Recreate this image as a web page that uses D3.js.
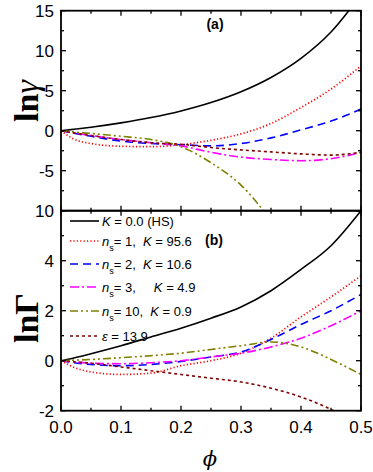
<!DOCTYPE html>
<html><head><meta charset="utf-8">
<script src="https://cdn.jsdelivr.net/npm/d3@7"></script>
<style>body{margin:0;background:#fff}svg{display:block}</style>
</head><body>
<svg id="c" width="373" height="472"></svg>
<script>
// ---- data ----
const phi = [0, 0.02, 0.05, 0.1, 0.15, 0.2, 0.25, 0.3, 0.35, 0.4, 0.45, 0.5];
// panel (a): ln gamma
const gHS   = [0, 0.17, 0.44, 0.98, 1.64, 2.47, 3.52, 4.87, 6.65, 9.04, 12.33, 17.0];
const gN1   = [0, -1.0, -1.6, -1.95, -2.0, -1.75, -1.2, -0.4, 0.9, 2.9, 5.2, 8.1];
const gN2   = [0, -0.3, -0.7, -1.3, -1.6, -1.75, -1.9, -1.6, -0.9, 0.1, 1.2, 2.7];
const gN3   = [0, -0.25, -0.6, -1.1, -1.5, -1.9, -2.7, -3.3, -3.6, -3.75, -3.5, -2.7];
const gN10  = [0, -0.15, -0.35, -0.7, -1.1, -2.0, -4.0, -6.8, -11.2, null, null, null];
const gEps  = [0, -0.25, -0.6, -1.1, -1.5, -1.7, -2.1, -2.4, -2.65, -2.9, -3.05, -2.7];
// panel (b): ln Gamma
const GHS   = [0, 0.1, 0.28, 0.6, 0.95, 1.3, 1.7, 2.15, 2.8, 3.65, 4.6, 6.0];
const GN1   = [0, -0.25, -0.45, -0.55, -0.5, -0.2, 0.0, 0.3, 0.9, 1.75, 2.55, 3.4];
const GN2   = [0, -0.08, -0.15, -0.2, -0.15, -0.03, 0.15, 0.35, 0.85, 1.45, 2.0, 2.65];
const GN3   = [0, -0.05, -0.1, -0.12, -0.08, 0.0, 0.15, 0.3, 0.55, 0.9, 1.4, 2.0];
const GN10  = [0, 0.02, 0.05, 0.12, 0.2, 0.3, 0.45, 0.6, 0.75, 0.55, 0.05, -0.55];
const GEps  = [0, -0.04, -0.1, -0.25, -0.4, -0.55, -0.7, -0.85, -1.1, -1.45, -1.95, -2.6];

const xTicks = [0, 0.1, 0.2, 0.3, 0.4, 0.5];
const xTickLabels = ["0.0", "0.1", "0.2", "0.3", "0.4", "0.5"];
const aTicks = [15, 10, 5, 0, -5, -10];
const aTickLabels = ["15", "10", "5", "0", "-5", "10"];
const bTicks = [4, 2, 0, -2];
const bTickLabels = ["4", "2", "0", "-2"];

const seriesNames = ["HS", "n1", "n2", "n3", "n10", "eps"];
const colors = ["#000000", "#ff0000", "#0000ff", "#ff00ff", "#808000", "#800000"];
const dashes = [null, "1.2,2.2", "8,5", "9,3,2,3", "8,3,2,3,2,3", "3,3"];

// ---- layout ----
const svg = d3.select("#c");
const L = 61, R = 361, T = 10.7, MID = 210.7, B = 410.7;
const x = d3.scaleLinear().domain([0, 0.5]).range([L, R]);
const ya = d3.scaleLinear().domain([-10, 15]).range([MID, T]);
const yb = d3.scaleLinear().domain([-2, 6]).range([B, MID]);

const defs = svg.append("defs");
defs.append("clipPath").attr("id", "ca").append("rect").attr("x", L).attr("y", T).attr("width", R - L).attr("height", MID - T);
defs.append("clipPath").attr("id", "cb").append("rect").attr("x", L).attr("y", MID).attr("width", R - L).attr("height", B - MID);

function drawPanel(y, clip, sets) {
  const g = svg.append("g").attr("clip-path", `url(#${clip})`);
  sets.forEach((vals, i) => {
    const pts = phi.map((p, j) => [p, vals[j]]);
    const line = d3.line().defined(d => d[1] != null)
      .x(d => x(d[0])).y(d => y(d[1])).curve(d3.curveMonotoneX);
    g.append("path").attr("d", line(pts)).attr("fill", "none")
      .attr("stroke", colors[i]).attr("stroke-width", i === 1 ? 1.7 : 1.6)
      .attr("stroke-dasharray", dashes[i]);
  });
}
drawPanel(ya, "ca", [gHS, gN1, gN2, gN3, gN10, gEps]);
drawPanel(yb, "cb", [GHS, GN1, GN2, GN3, GN10, GEps]);

// ---- axes (ticks inward) ----
const xMinor = d3.range(0, 0.5001, 0.05);
function frame(y, y0, y1, majors, minors) {
  const g = svg.append("g").attr("stroke", "#000").attr("stroke-width", 1.3);
  xMinor.forEach(v => {
    const len = xTicks.some(t => Math.abs(t - v) < 1e-6) ? 5 : 3;
    g.append("line").attr("x1", x(v)).attr("x2", x(v)).attr("y1", y(y0)).attr("y2", y(y0) - len);
    g.append("line").attr("x1", x(v)).attr("x2", x(v)).attr("y1", y(y1)).attr("y2", y(y1) + len);
  });
  minors.forEach(v => {
    const len = majors.includes(v) ? 5 : 3;
    g.append("line").attr("x1", L).attr("x2", L + len).attr("y1", y(v)).attr("y2", y(v));
    g.append("line").attr("x1", R).attr("x2", R - len).attr("y1", y(v)).attr("y2", y(v));
  });
  svg.append("rect").attr("x", L).attr("y", y(y1)).attr("width", R - L).attr("height", y(y0) - y(y1))
    .attr("fill", "none").attr("stroke", "#000").attr("stroke-width", 1.8);
}
frame(ya, -10, 15, aTicks, d3.range(-10, 15.01, 2.5));
frame(yb, -2, 6, [-2, 0, 2, 4, 6], d3.range(-2, 6.01, 1));

const tf = "'Liberation Sans', Arial, sans-serif";
aTicks.forEach((v, i) => svg.append("text").attr("x", 54).attr("y", ya(v)).attr("dy", "0.36em")
  .attr("text-anchor", "end").attr("font-family", tf).attr("font-size", 17).text(aTickLabels[i]));
bTicks.forEach((v, i) => svg.append("text").attr("x", 54).attr("y", yb(v)).attr("dy", "0.36em")
  .attr("text-anchor", "end").attr("font-family", tf).attr("font-size", 17).text(bTickLabels[i]));
xTicks.forEach((v, i) => svg.append("text").attr("x", x(v)).attr("y", 433)
  .attr("text-anchor", "middle").attr("font-family", tf).attr("font-size", 17).text(xTickLabels[i]));

// axis titles
const serif = "'Liberation Serif', 'Times New Roman', serif";
function yTitle(cy, sym, italic) {
  const t = svg.append("text").attr("transform", `translate(38,${cy}) rotate(-90)`)
    .attr("text-anchor", "middle").attr("font-family", serif).attr("font-size", 34).attr("font-weight", "bold");
  t.append("tspan").text("ln");
  t.append("tspan").attr("font-style", italic ? "italic" : "normal").attr("font-weight", italic ? "normal" : "bold").text(sym);
}
yTitle(101, "γ", true);
yTitle(318, "Γ", false);
svg.append("text").attr("x", 210).attr("y", 466).attr("text-anchor", "middle")
  .attr("font-family", "'DejaVu Serif', serif").attr("font-size", 21).attr("font-style", "italic").text("ϕ");

// panel labels
svg.append("text").attr("x", 215).attr("y", 29).attr("text-anchor", "middle")
  .attr("font-family", tf).attr("font-size", 14).attr("font-weight", "bold").text("(a)");
svg.append("text").attr("x", 214).attr("y", 245).attr("text-anchor", "middle")
  .attr("font-family", tf).attr("font-size", 14).attr("font-weight", "bold").text("(b)");

// legend
const legRows = [
  {y: 221, parts: [["K", "i"], [" = 0.0 (HS)", ""]]},
  {y: 241, parts: [["n", "i"], ["s", "sub"], ["= 1,  ", ""], ["K", "i"], [" = 95.6", ""]]},
  {y: 264, parts: [["n", "i"], ["s", "sub"], ["= 2,  ", ""], ["K", "i"], [" = 10.6", ""]]},
  {y: 287, parts: [["n", "i"], ["s", "sub"], ["= 3,     ", ""], ["K", "i"], [" = 4.9", ""]]},
  {y: 311, parts: [["n", "i"], ["s", "sub"], ["= 10,  ", ""], ["K", "i"], [" = 0.9", ""]]},
  {y: 336, parts: [["ε", "i"], [" = 13.9", ""]]}
];
legRows.forEach((r, i) => {
  svg.append("line").attr("x1", 70).attr("x2", 99).attr("y1", r.y).attr("y2", r.y)
    .attr("stroke", colors[i]).attr("stroke-width", i === 1 ? 1.7 : 1.6).attr("stroke-dasharray", dashes[i]);
  const t = svg.append("text").attr("x", 102).attr("y", r.y).attr("dy", "0.35em")
    .attr("font-family", tf).attr("font-size", 13).attr("xml:space", "preserve").style("white-space", "pre");
  r.parts.forEach(([s, k]) => {
    const sp = t.append("tspan").text(s);
    if (k === "i") sp.attr("font-style", "italic");
    if (k === "sub") { sp.attr("font-size", 9).attr("dy", "5"); }
    if (k === "" && r.parts.some(p => p[1] === "sub") && s.startsWith("=")) sp.attr("dy", "-5");
  });
});
</script>
</body></html>
